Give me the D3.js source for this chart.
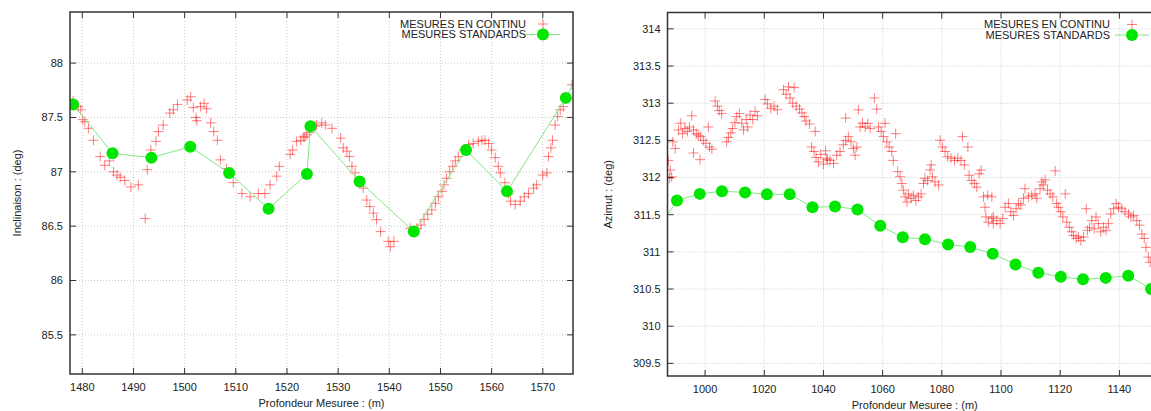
<!DOCTYPE html>
<meta charset='utf-8'>
<style>
body { margin: 0; background: #fff; overflow: hidden; }
svg { display: block; }
svg text { font: 11px 'Liberation Sans', Arial, sans-serif; fill: #222; }
.grid line { stroke: #c8c8c8; stroke-dasharray: 1,2; }
.frame { fill: none; stroke: #333; stroke-width: 1.5; }
.tick-mark { stroke: #333; stroke-width: 1; }
.cross { fill: none; stroke: red; stroke-opacity: .5; stroke-width: 1; }
.std-line { fill: none; stroke: #80e880; stroke-width: 1; }
.std-dot { fill: #00e600; }
</style>
<script src='https://cdn.jsdelivr.net/npm/d3@7'></script>
<body>
<script>
'use strict'

// Data - inclinaison (left)
let incDepth = [1477.3, 1478.2, 1479.2, 1479.7, 1480.1, 1480.5, 1481.2, 1482.2, 1483.5, 1484.4,
	1485.3, 1486.1, 1486.8, 1487.4, 1488.3, 1489.5, 1490.95, 1492.3, 1492.7, 1493.4,
	1494.4, 1494.9, 1495.8, 1497.1, 1497.8, 1498.6, 1500.5, 1501.2, 1501.7, 1502.2,
	1502.4, 1503.1, 1503.8, 1504.3, 1505.1, 1505.7, 1506.4, 1507.0, 1508.2, 1509.5,
	1511.2, 1512.8, 1514.4, 1515.7, 1516.7, 1518.0, 1518.5, 1520.6, 1521.1, 1521.9,
	1522.7, 1523.2, 1523.5, 1523.9, 1524.4, 1525.5, 1525.8, 1526.8, 1527.5, 1528.8,
	1530.5, 1531.0, 1531.7, 1532.2, 1532.7, 1533.3, 1534.0, 1534.9, 1535.6, 1536.2,
	1536.9, 1537.5, 1538.3, 1539.8, 1540.2, 1540.9, 1544.1, 1545.4, 1546.2, 1546.8,
	1547.5, 1548.3, 1549.0, 1549.6, 1550.3, 1550.7, 1551.2, 1551.8, 1552.4, 1552.9,
	1553.5, 1554.5, 1555.5, 1556.4, 1557.4, 1558.1, 1558.7, 1559.4, 1560.0, 1560.7,
	1561.3, 1561.7, 1562.6, 1563.3, 1563.7, 1564.6, 1565.6, 1566.4, 1567.2, 1568.2,
	1568.8, 1570.0, 1570.8, 1571.1, 1571.6, 1571.9, 1572.4, 1572.9, 1573.4, 1574.0, 1575.7],
	incValue = [87.66, 87.65, 87.60, 87.57, 87.48, 87.46, 87.40, 87.29, 87.14, 87.06,
	87.10, 87.00, 86.97, 86.95, 86.92, 86.86, 86.88, 86.57, 87.02, 87.20,
	87.28, 87.37, 87.43, 87.54, 87.57, 87.62, 87.66, 87.69, 87.59, 87.50,
	87.47, 87.60, 87.63, 87.58, 87.45, 87.37, 87.29, 87.11, 87.03, 86.90,
	86.80, 86.77, 86.80, 86.80, 86.88, 86.96, 87.05, 87.16, 87.20, 87.28,
	87.29, 87.32, 87.32, 87.34, 87.36, 87.42, 87.43, 87.45, 87.43, 87.40,
	87.31, 87.22, 87.19, 87.14, 87.05, 86.99, 86.91, 86.85, 86.74, 86.68,
	86.62, 86.56, 86.45, 86.36, 86.31, 86.36, 86.48, 86.48, 86.51, 86.56,
	86.61, 86.65, 86.71, 86.77, 86.82, 86.88, 86.94, 87.00, 87.05, 87.10,
	87.14, 87.20, 87.25, 87.26, 87.28, 87.29, 87.29, 87.26, 87.20, 87.13,
	87.05, 86.99, 86.90, 86.80, 86.73, 86.70, 86.73, 86.77, 86.80, 86.85,
	86.88, 86.97, 86.99, 87.14, 87.22, 87.29, 87.43, 87.51, 87.57, 87.60, 87.80]
let incStdDepth = [1470.6, 1478.2, 1485.9, 1493.5, 1501.1, 1508.7, 1516.4, 1523.9, 1524.6,
	1534.2, 1544.8, 1555.0, 1563.0, 1574.5, 1582.1],
	incStdValue = [88.36, 87.62, 87.17, 87.13, 87.23, 86.99, 86.66, 86.98, 87.42,
	86.91, 86.45, 87.20, 86.82, 87.68, 88.37]

// Data - azimut (right)
let aziDepth = [987.6, 988.2, 988.0, 988.7, 989.1, 989.9, 991.0, 991.8, 992.4, 993.2,
	994.0, 994.7, 995.5, 996.1, 997.0, 997.7, 998.5, 999.4, 1000.3, 1001.1,
	1001.5, 1002.3, 996.1, 998.3, 1003.4, 1004.2, 1004.8, 1005.6, 1007.3, 1007.9,
	1008.7, 1009.3, 1010.1, 1010.7, 1011.6, 1012.4, 1013.0, 1013.9, 1014.4, 1015.2,
	1016.1, 1016.9, 1017.7, 1020.3, 1021.1, 1022.2, 1023.3, 1024.4, 1026.5, 1027.4,
	1028.2, 1028.7, 1030.1, 1029.6, 1030.8, 1031.9, 1032.7, 1033.5, 1034.1, 1035.3,
	1037.2, 1036.0, 1036.8, 1037.5, 1038.3, 1039.1, 1040.0, 1040.7, 1041.3,
	1041.1, 1042.2, 1043.4, 1044.5, 1045.6, 1046.7, 1047.5, 1048.4, 1049.3, 1050.1,
	1050.7, 1051.3, 1047.5, 1051.8, 1052.4, 1053.2, 1054.1, 1055.0, 1055.8, 1057.2,
	1058.0, 1058.6, 1059.5, 1060.3, 1060.8, 1061.4, 1062.2, 1063.1, 1063.6, 1064.4,
	1065.1, 1065.9, 1066.5, 1067.0, 1067.6, 1068.2, 1068.7, 1069.6, 1070.4, 1071.2,
	1072.1, 1073.0, 1073.8, 1074.3, 1075.2, 1076.0, 1076.8, 1077.7, 1078.9, 1076.4,
	1079.4, 1080.2, 1081.1, 1082.0, 1083.1, 1084.3, 1085.4, 1086.5, 1087.0, 1087.6,
	1088.8, 1089.2, 1090.1, 1091.0, 1091.8, 1092.6, 1093.3, 1094.1, 1094.6, 1095.5,
	1094.9, 1095.7, 1096.9, 1097.4, 1096.9, 1097.4, 1098.6, 1099.7, 1100.6, 1101.4,
	1102.5, 1103.3, 1104.2, 1105.1, 1105.9, 1106.7, 1107.6, 1108.1, 1109.3, 1110.4,
	1111.5, 1112.1, 1113.2, 1113.8, 1114.3, 1114.9, 1115.7, 1116.6, 1117.5, 1118.3,
	1118.8, 1119.4, 1120.2, 1120.9, 1121.7, 1122.2, 1123.1, 1123.9, 1124.5, 1125.4,
	1126.2, 1127.0, 1127.9, 1128.8, 1129.2, 1129.9, 1130.7, 1131.5, 1132.1, 1132.9,
	1133.7, 1134.6, 1135.5, 1136.3, 1137.1, 1138.0, 1138.9, 1139.7, 1140.8, 1141.9,
	1143.1, 1143.9, 1144.8, 1145.9, 1146.8, 1147.6, 1148.4, 1149.0, 1149.8, 1150.4],
	aziValue = [312.23, 312.10, 311.99, 312.01, 312.48, 312.39, 312.64, 312.73, 312.59, 312.66,
	312.62, 312.68, 312.83, 312.64, 312.59, 312.57, 312.55, 312.50, 312.46, 312.68,
	312.41, 312.38, 312.33, 312.24, 313.03, 312.96, 312.90, 312.86, 312.48, 312.54,
	312.60, 312.66, 312.74, 312.82, 312.86, 312.73, 312.64, 312.78, 312.68, 312.84,
	312.78, 312.89, 312.83, 313.05, 312.99, 312.93, 312.96, 312.91, 313.18, 313.12,
	313.22, 313.07, 313.21, 313.00, 312.96, 312.92, 312.87, 312.82, 312.76, 312.72,
	312.62, 312.41, 312.35, 312.27, 312.21, 312.31, 312.18, 312.36, 312.24,
	312.26, 312.23, 312.19, 312.30, 312.35, 312.44, 312.50, 312.55, 312.48, 312.39,
	312.30, 312.41, 312.80, 312.91, 312.68, 312.73, 312.68, 312.73, 312.66, 313.07,
	312.92, 312.68, 312.62, 312.55, 312.73, 312.48, 312.41, 312.35, 312.23, 312.59,
	312.08, 312.01, 311.92, 311.83, 311.74, 311.67, 311.78, 311.72, 311.76, 311.69,
	311.74, 311.78, 311.92, 311.99, 311.96, 312.10, 312.01, 311.94, 311.90, 312.17,
	312.50, 312.41, 312.35, 312.28, 312.26, 312.23, 312.26, 312.23, 312.55, 312.17,
	312.41, 312.03, 311.96, 311.92, 311.87, 312.05, 312.10, 311.74, 311.60, 311.76,
	311.47, 311.40, 311.45, 311.38, 311.74, 311.47, 311.42, 311.38, 311.45, 311.60,
	311.65, 311.54, 311.49, 311.58, 311.65, 311.63, 311.72, 311.85, 311.74, 311.76,
	311.78, 311.72, 311.85, 311.94, 311.90, 311.97, 311.83, 311.78, 311.74, 312.09,
	311.65, 311.60, 311.54, 311.47, 311.78, 311.40, 311.33, 311.27, 311.22, 311.18,
	311.20, 311.15, 311.20, 311.58, 311.29, 311.33, 311.42, 311.31, 311.47, 311.38,
	311.27, 311.33, 311.29, 311.38, 311.51, 311.58, 311.65, 311.60, 311.58, 311.54,
	311.51, 311.47, 311.49, 311.42, 311.36, 311.24, 311.18, 311.06, 310.93, 310.86]
let aziStdDepth = [982.9, 990.5, 998.2, 1005.7, 1013.5, 1020.9, 1028.6, 1036.3, 1043.9, 1051.5,
	1059.2, 1066.8, 1074.3, 1082.1, 1089.6, 1097.2, 1104.9, 1112.6, 1120.2, 1127.7,
	1135.4, 1143.0, 1150.7],
	aziStdValue = [311.23, 311.69, 311.78, 311.815, 311.80, 311.775, 311.775, 311.60, 311.61, 311.57,
	311.35, 311.195, 311.17, 311.10, 311.065, 310.975, 310.83, 310.72, 310.665, 310.63,
	310.65, 310.68, 310.50]

// Tick labels
let incXTicks = [1480, 1490, 1500, 1510, 1520, 1530, 1540, 1550, 1560, 1570],
	incYTicks = [85.5, 86, 86.5, 87, 87.5, 88],
	aziXTicks = [1000, 1020, 1040, 1060, 1080, 1100, 1120, 1140],
	aziYTicks = [309.5, 310, 310.5, 311, 311.5, 312, 312.5, 313, 313.5, 314]

let legendLabels = ['MESURES EN CONTINU', 'MESURES STANDARDS'],
	xTitle = 'Profondeur Mesuree : (m)'

let svg = d3.select('body').append('svg').attr('width', 1151).attr('height', 411)

function panel(o) {
	let x = d3.scaleLinear(o.xDomain, [o.left, o.right]),
		y = d3.scaleLinear(o.yDomain, [o.bottom, o.top]),
		g = svg.append('g'),
		clipId = `clip-${o.id}`

	g.append('clipPath').attr('id', clipId).append('rect')
		.attr('x', o.left).attr('y', o.top)
		.attr('width', o.right - o.left).attr('height', o.bottom - o.top)

	// grid
	let grid = g.append('g').attr('class', 'grid')
	grid.selectAll('.gx').data(o.xTicks).join('line').attr('class', 'gx')
		.attr('x1', d => x(d)).attr('x2', d => x(d)).attr('y1', o.top).attr('y2', o.bottom)
	grid.selectAll('.gy').data(o.yTicks).join('line').attr('class', 'gy')
		.attr('y1', d => y(d)).attr('y2', d => y(d)).attr('x1', o.left).attr('x2', o.right)

	// tick marks, mirrored on all sides
	let tk = g.append('g')
	tk.selectAll('.tb').data(o.xTicks).join('path').attr('class', 'tick-mark')
		.attr('d', d => `M${x(d)},${o.bottom}v-6M${x(d)},${o.top}v6`)
	tk.selectAll('.tl').data(o.yTicks).join('path').attr('class', 'tick-mark')
		.attr('d', d => `M${o.left},${y(d)}h6M${o.right},${y(d)}h-6`)

	// tick labels
	g.selectAll('.xl').data(o.xTicks).join('text')
		.attr('x', d => x(d)).attr('y', o.bottom + 17).attr('text-anchor', 'middle').text(d => d)
	g.selectAll('.yl').data(o.yTicks).join('text')
		.attr('x', o.left - 7).attr('y', d => y(d)).attr('dy', '.35em')
		.attr('text-anchor', 'end').text(d => d)

	// axis titles
	g.append('text').attr('x', (o.left + o.right) / 2).attr('y', o.bottom + 33)
		.attr('text-anchor', 'middle').text(xTitle)
	g.append('text').attr('text-anchor', 'middle')
		.attr('transform', `translate(${o.yTitleX},${(o.top + o.bottom) / 2}) rotate(-90)`)
		.text(o.yTitle)

	// marks
	let plot = g.append('g').attr('clip-path', `url(#${clipId})`),
		crosses = d3.zip(o.depth, o.value),
		std = d3.zip(o.stdDepth, o.stdValue)
	plot.selectAll('.cross').data(crosses).join('path').attr('class', 'cross')
		.attr('d', d => `M${x(d[0]) - 5},${y(d[1])}h10M${x(d[0])},${y(d[1]) - 5}v10`)
	plot.append('path').attr('class', 'std-line')
		.attr('d', d3.line(d => x(d[0]), d => y(d[1]))(std))
	plot.selectAll('.std-dot').data(std).join('circle').attr('class', 'std-dot')
		.attr('cx', d => x(d[0])).attr('cy', d => y(d[1])).attr('r', 6)

	// legend
	let lx = o.right - 30, lg = g.append('g')
	lg.selectAll('text').data(legendLabels).join('text')
		.attr('x', lx - o.legendGap).attr('y', (d, i) => o.top + 12 + i * 10.5).attr('dy', '.35em')
		.attr('text-anchor', 'end').text(d => d)
	lg.append('path').attr('class', 'cross').attr('d', `M${lx - 5},${o.top + 12}h10M${lx},${o.top + 7}v10`)
	lg.append('path').attr('class', 'std-line').attr('d', `M${lx - 17},${o.top + 22.5}h34`)
	lg.append('circle').attr('class', 'std-dot').attr('cx', lx).attr('cy', o.top + 22.5).attr('r', 6)

	// frame
	g.append('rect').attr('class', 'frame')
		.attr('x', o.left).attr('y', o.top).attr('width', o.right - o.left).attr('height', o.bottom - o.top)
}

panel({
	id: 'inc', left: 70, right: 573, top: 12, bottom: 374,
	xDomain: [1477.6, 1575.9], yDomain: [85.14, 88.47],
	xTicks: incXTicks, yTicks: incYTicks,
	depth: incDepth, value: incValue, stdDepth: incStdDepth, stdValue: incStdValue,
	yTitle: 'Inclinaison : (deg)', yTitleX: 21, legendGap: 17
})

panel({
	id: 'azi', left: 667.5, right: 1162, top: 12.5, bottom: 376,
	xDomain: [987.3, 1154.4], yDomain: [309.33, 314.22],
	xTicks: aziXTicks, yTicks: aziYTicks,
	depth: aziDepth, value: aziValue, stdDepth: aziStdDepth, stdValue: aziStdValue,
	yTitle: 'Azimut : (deg)', yTitleX: 612, legendGap: 22
})
</script>
